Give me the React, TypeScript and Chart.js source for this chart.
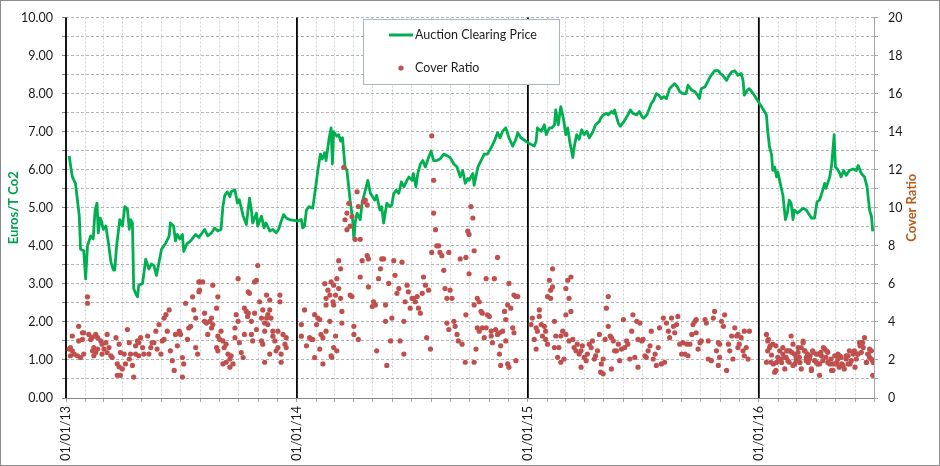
import React, { useEffect, useRef } from "react";
import { Chart, registerables } from "chart.js";

Chart.register(...registerables);

// ---------- data ----------
const yearTickLabels = ["01/01/13", "01/01/14", "01/01/15", "01/01/16"];
const yearStartDays = [0, 365, 730, 1095]; // days since 01/01/13
const xMaxDay = 1277; // 01/07/16
const priceAxisTitle = "Euros/T Co2";
const ratioAxisTitle = "Cover Ratio";
const priceLabel = "Auction Clearing Price";
const ratioLabel = "Cover Ratio";

// Auction clearing price (EUR/t), x = days since 01/01/13
const priceDay = [
  5, 10, 15, 21, 23, 28, 31, 34, 39, 43, 46, 49, 51, 54, 56, 59, 63, 67, 71, 75, 77, 80, 85, 89, 93, 97, 100, 102, 105, 107, 110, 113, 115, 121, 126, 131, 135, 139, 143, 147, 151, 158, 163, 165, 170, 173, 176, 180, 184, 186, 191, 197, 205, 210,
  219, 224, 230, 235, 240, 245, 248, 251, 255, 259, 261, 267, 271, 274, 280, 285, 290, 293, 295, 301, 303, 309, 313, 316, 322, 327, 332, 336, 340, 344, 348, 353, 367,
  372, 374, 377, 380, 384, 390, 395, 398, 402, 405, 409, 411, 416, 419, 421, 423, 428, 431, 434, 437, 441, 444, 449, 453, 455, 457, 460, 465, 468, 473, 477, 481, 483, 488, 491, 496, 499, 502, 507, 512, 515, 518, 522, 526, 530, 534, 539, 542, 547, 549, 553, 556, 560,
  564, 568, 573, 577, 581, 586, 591, 597, 602, 607, 613, 618, 623, 627, 631, 635, 637, 643, 645, 651, 656, 661, 666, 672, 677, 682, 686, 690, 695, 700, 706, 711, 714, 719, 730,
  740, 743, 745, 751, 756, 759, 764, 768, 772, 774, 778, 782, 786, 790, 793, 796, 801, 803, 807, 811, 815, 819, 823, 827, 832, 837, 843, 845, 849, 854, 857, 862, 865, 867, 873, 876, 882, 888, 892, 896, 902, 906, 910, 913,
  918, 922, 925, 929, 933, 937, 941, 945, 949, 954, 959, 962, 966, 970, 975, 980, 983, 989, 994, 998, 1001, 1004, 1010, 1014, 1018, 1022, 1025, 1031, 1034, 1038, 1044, 1048, 1052, 1057, 1062, 1067, 1070, 1072, 1077, 1080, 1086, 1091,
  1096, 1101, 1107, 1109, 1112, 1115, 1117, 1120, 1123, 1125, 1130, 1133, 1137, 1140, 1143, 1146, 1149, 1151, 1156, 1159, 1165, 1170, 1173, 1178, 1183, 1187, 1191, 1196, 1199, 1201, 1207, 1210, 1214, 1216, 1219, 1223, 1225, 1229, 1233, 1238, 1244, 1249, 1252, 1257, 1262, 1266, 1270, 1273, 1275,
];
const priceValue = [
  6.36, 5.81, 5.64, 4.78, 3.91, 3.87, 3.13, 4.0, 4.26, 4.18, 4.94, 5.12, 4.34, 4.73, 4.65, 4.43, 4.52, 4.08, 3.57, 3.36, 3.36, 4.0, 4.69, 4.52, 5.03, 4.97, 4.43, 4.69, 4.6, 2.88, 2.75, 2.66, 2.96, 3.01, 3.65, 3.39, 3.52, 3.48, 3.22, 3.57, 3.91, 4.08, 4.26, 4.6, 4.52, 4.13, 4.3, 4.18, 4.3, 3.85, 4.05, 4.13, 4.3, 4.22,
  4.43, 4.26, 4.34, 4.47, 4.39, 4.43, 5.03, 5.33, 5.42, 5.29, 5.42, 5.47, 5.12, 5.21, 4.78, 4.56, 5.25, 4.94, 4.6, 4.86, 4.52, 4.78, 4.47, 4.6, 4.39, 4.43, 4.34, 4.43, 4.64, 4.82, 4.73, 4.69, 4.65,
  4.69, 4.47, 4.52, 4.94, 5.03, 4.99, 5.59, 5.98, 6.41, 6.28, 6.45, 6.24, 6.84, 7.1, 6.15, 7.0, 6.88, 6.92, 6.75, 6.84, 6.07, 5.98, 5.2, 4.69, 4.17, 4.6, 4.86, 4.69, 5.12, 5.46, 5.72, 5.38, 5.33, 5.2, 5.33, 4.94, 5.03, 4.6, 5.12, 5.03, 5.08, 5.38, 5.46, 5.38, 5.68, 5.55, 5.72, 5.81, 5.72, 5.9, 5.55, 5.9, 6.15,
  6.24, 6.07, 6.32, 6.49, 6.24, 6.24, 6.28, 6.41, 6.37, 6.32, 6.15, 6.07, 5.81, 5.98, 5.64, 5.77, 5.72, 5.9, 5.59, 6.07, 6.24, 6.41, 6.41, 6.58, 6.75, 6.97, 6.84, 7.01, 7.1, 6.84, 6.62, 6.8, 6.97, 6.84, 6.71,
  6.62, 6.75, 7.1, 7.01, 7.18, 6.92, 7.1, 7.1, 7.18, 7.57, 7.18, 7.66, 7.35, 6.92, 7.1, 6.75, 6.32, 6.58, 6.92, 6.8, 7.05, 6.92, 7.01, 6.84, 6.97, 7.18, 7.27, 7.35, 7.44, 7.48, 7.44, 7.53, 7.48, 7.57, 7.22, 7.14, 7.27, 7.44, 7.57, 7.48, 7.44, 7.53, 7.4, 7.35,
  7.44, 7.61, 7.74, 7.83, 8.0, 7.96, 7.87, 7.92, 7.87, 8.13, 8.22, 8.26, 8.18, 8.05, 8.0, 8.0, 8.22, 8.09, 8.05, 7.96, 7.87, 8.13, 8.18, 8.31, 8.44, 8.53, 8.6, 8.6, 8.53, 8.48, 8.35, 8.48, 8.57, 8.6, 8.48, 8.53, 8.35, 7.96, 8.09, 8.13, 8.0, 7.87,
  7.74, 7.61, 7.44, 7.01, 6.58, 6.41, 5.98, 6.07, 5.81, 5.94, 5.55, 5.33, 4.69, 4.86, 5.2, 5.12, 4.69, 4.94, 4.86, 4.9, 4.99, 4.94, 4.86, 4.73, 4.73, 5.16, 5.2, 5.46, 5.64, 5.51, 5.81, 6.11, 6.92, 6.07, 6.02, 5.9, 5.81, 5.98, 5.85, 5.98, 6.02, 5.98, 6.11, 5.9, 5.81, 5.55, 4.94, 4.77, 4.38,
];

// Cover ratio (right axis), x = days since 01/01/13
const coverDay = [
  5, 7, 7, 10, 10, 13, 18, 20, 20, 23, 26, 26, 28, 28, 34, 34, 36, 39, 42, 42, 44, 44, 47, 47, 50, 50, 55, 57, 57, 60, 63, 65, 65, 68, 71, 73, 79, 81, 81, 84, 84, 86, 86, 89, 92, 94, 97, 100, 100, 102, 105, 107, 110, 110, 113, 115, 115, 118, 121, 123, 129, 131, 134, 136, 139, 142, 144, 147, 150, 152, 155, 155, 158, 160, 163, 165, 168, 171, 173, 176, 179, 181, 184, 184, 186, 189, 192, 194, 197, 200, 202, 205, 205, 208, 210, 210,
  211, 216, 211, 219, 222, 227, 230, 232, 230, 232, 240, 238, 224, 219, 240, 243, 245, 248, 238, 240, 250, 253, 248, 253, 259, 261, 264, 259, 256, 267, 267, 269, 272, 274, 272, 277, 280, 282, 285, 287, 288, 290, 282, 288, 293, 293, 295, 298, 301, 298, 301, 303, 306, 309, 311, 314, 317, 319, 322, 324, 322, 317, 319, 314, 309, 311, 314, 322, 327, 327, 330, 332, 335, 338, 338, 340, 343, 346, 348, 348, 335, 340,
  372, 372, 377, 380, 385, 388, 390, 393, 396, 398, 401, 403, 406, 401, 393, 406, 409, 411, 411, 414, 417, 419, 422, 419, 411, 417,
  439, 447, 444, 441, 444, 449, 452, 460, 462, 470, 473, 476, 457, 465, 431, 434, 428, 423, 431, 426, 434, 423, 436, 436, 426, 423, 428, 420,
  449, 452, 455, 455, 462, 465, 468, 476, 478, 478, 484, 486, 489, 491, 494, 497, 499, 502, 505, 505, 507, 510, 513, 515, 518, 520, 523, 526, 528, 531, 534, 534, 536, 539, 541, 544, 547, 549, 552, 555, 557, 560, 563, 565, 568, 570, 573, 576, 578, 578, 581, 581, 584, 586, 589, 591, 594, 597, 599, 602, 605, 607, 610, 613, 615, 618, 620, 623, 626, 631, 602, 605,
  640, 643, 635, 637, 632, 645, 637, 632, 645, 650, 653, 656, 658, 648, 645, 650, 653, 658, 661, 664, 664, 666, 669, 672, 672, 674, 677, 679, 682, 682, 685, 687, 685, 687, 690, 693, 695, 695, 698, 698, 700, 700, 703, 706, 708, 711, 714, 711, 708,
  735, 737, 740, 743, 743, 745, 748, 748, 751, 753, 756, 758, 758, 761, 761, 764, 766, 766, 769, 769, 772, 772, 774, 777, 779, 782, 785, 782, 787, 790, 790, 793, 795, 798, 798, 790, 795, 801, 803, 806, 808, 811, 814, 814, 816, 819, 822, 824, 827, 830, 832, 835, 837, 840, 843, 845,
  857, 854, 852, 857, 860, 862, 865, 849, 846, 849, 862, 867, 870, 873, 875, 878, 881, 883, 886, 888, 891, 894, 896, 899, 902, 904, 904, 907, 910, 912, 915, 917, 920, 923, 925, 928, 931, 933, 936, 938, 941, 944, 946, 949, 952, 954, 957, 960, 962, 965, 967, 970, 973, 975, 978, 981, 983, 986, 989, 991, 994, 996, 996, 999, 1002, 1004, 1010, 1012, 1015, 1015, 1020, 1023, 1025, 1028, 1031, 1033, 1036, 1039, 1041, 1044, 1047, 1049, 1052, 1054, 1057, 1060, 1062, 1031, 1033,
  1062, 1064, 1067, 1070, 1072, 1075, 1078, 1080, 1072,
  1107, 1109, 1107, 1109, 1112, 1114, 1117, 1120, 1122, 1125, 1128, 1130, 1133, 1136, 1138, 1141, 1143, 1146, 1149, 1151, 1154, 1157, 1159, 1162, 1165, 1167, 1170, 1172, 1175, 1178, 1180, 1183, 1186, 1188, 1191, 1193, 1196, 1199, 1201, 1204, 1207, 1209, 1212, 1215, 1217, 1220, 1222, 1225, 1228, 1230, 1233, 1236, 1238, 1241, 1244, 1246, 1249, 1251, 1254, 1257, 1259, 1262, 1265, 1267, 1270, 1273, 1275, 1275,
  1110, 1113, 1115, 1118, 1122, 1123, 1127, 1131, 1133, 1136, 1139, 1141, 1144, 1147, 1149, 1152, 1154, 1157, 1160, 1162, 1165, 1168, 1170, 1173, 1176, 1178, 1181, 1186, 1189, 1191, 1194, 1197, 1202, 1204, 1210, 1212, 1218, 1220, 1223, 1226, 1233, 1236, 1239, 1244, 1247, 1252, 1255, 1257, 1260, 1265, 1268, 1270, 1273, 1276,
];
const coverRatio = [
  2.57, 2.65, 2.22, 2.48, 3.26, 2.31, 2.22, 3.77, 3.0, 2.13, 3.43, 3.08, 3.43, 2.31, 5.32, 4.98, 3.34, 3.08, 3.2, 2.48, 2.65, 2.22, 3.34, 2.39, 3.17, 2.57, 3.0, 2.83, 2.31, 2.57, 2.91, 3.34, 2.39, 2.65, 2.22, 2.13, 3.17, 1.79, 1.19, 2.83, 1.64, 2.39, 1.19, 1.53, 2.31, 1.79, 3.6, 2.91, 2.05, 2.31, 1.71, 1.1, 2.31, 2.74, 3.0, 2.91, 2.22, 3.17, 2.65, 2.31, 3.26, 2.31, 2.65, 2.91, 2.91, 3.51, 2.57, 3.86, 2.31, 3.0, 3.08, 4.2, 4.38, 3.51, 4.63, 2.48, 1.96, 1.45, 3.34, 2.74, 3.51, 3.34, 1.1, 2.13, 1.79, 4.98, 3.08, 3.68, 3.77, 5.32, 4.63, 4.2, 2.65, 2.31, 6.1, 5.58,
  6.1, 6.1, 5.67, 4.46, 3.94, 4.03, 4.2, 3.86, 3.68, 5.93, 5.32, 4.72, 3.34, 4.03, 3.25, 3.08, 3.51, 3.0, 2.65, 2.48, 2.65, 2.83, 1.79, 1.88, 2.05, 2.22, 1.79, 1.62, 2.31, 3.68, 3.17, 4.38, 4.03, 2.91, 6.27, 2.39, 2.13, 4.72, 4.55, 4.29, 5.58, 5.5, 3.34, 4.46, 4.03, 3.34, 3.0, 4.46, 3.6, 6.1, 6.19, 6.96, 5.06, 4.2, 4.63, 3.94, 5.41, 4.38, 4.63, 4.2, 5.15, 4.2, 3.86, 3.51, 3.0, 2.83, 1.88, 2.31, 3.25, 3.51, 3.0, 2.48, 3.51, 5.41, 5.06, 2.31, 3.34, 2.83, 3.17, 2.65, 2.65, 1.88,
  3.25, 3.86, 4.63, 2.74, 3.17, 3.08, 3.08, 4.38, 3.86, 4.2, 4.12, 3.34, 3.17, 2.57, 2.13, 1.79, 6.01, 5.24, 4.89, 5.67, 5.41, 6.1, 5.06, 2.22, 3.51, 4.03,
  12.13, 10.23, 9.72, 9.37, 8.85, 9.03, 9.54, 10.84, 10.06, 10.32, 10.4, 10.15, 8.34, 8.34, 7.22, 6.79, 6.27, 5.93, 5.75, 5.41, 5.24, 4.89, 4.55, 3.94, 3.26, 2.65, 2.48, 2.14,
  5.41, 5.33, 3.77, 3.34, 3.08, 6.36, 7.22, 7.48, 7.31, 5.84, 4.81, 5.06, 4.89, 2.48, 6.27, 6.79, 7.31, 7.31, 4.89, 4.03, 1.71, 6.02, 3.0, 4.2, 7.22, 6.45, 5.5, 5.75, 3.0, 7.14, 4.03, 2.31, 5.06, 5.93, 5.58, 4.72, 5.24, 5.24, 5.06, 5.33, 4.72, 4.46, 5.5, 6.36, 5.93, 3.17, 5.67, 2.57, 7.65, 13.78, 11.44, 9.72, 8.85, 8.0, 8.0, 7.65, 7.48, 6.71, 5.75, 5.24, 7.65, 5.67, 5.24, 4.03, 3.77, 3.34, 3.0, 7.31, 2.83, 1.88, 3.94, 3.6,
  10.06, 9.46, 8.77, 8.6, 7.39, 7.74, 6.53, 4.37, 4.89, 5.24, 5.06, 4.55, 4.46, 2.57, 1.88, 3.69, 3.51, 3.69, 3.17, 6.27, 3.69, 4.37, 4.29, 3.51, 3.26, 2.91, 6.27, 3.6, 7.39, 3.34, 3.43, 2.74, 2.31, 1.71, 3.51, 4.55, 4.12, 3.0, 4.89, 1.79, 6.02, 1.62, 4.72, 3.69, 5.41, 5.33, 5.33, 1.96, 3.43,
  3.86, 4.2, 3.08, 2.57, 3.69, 3.51, 4.63, 4.29, 3.86, 3.26, 3.77, 3.51, 3.08, 2.83, 5.33, 6.19, 5.67, 5.24, 5.84, 6.79, 4.03, 2.65, 3.26, 2.14, 2.65, 3.26, 3.51, 1.88, 2.05, 4.37, 5.75, 6.19, 5.24, 6.36, 4.55, 3.34, 3.0, 3.08, 2.65, 2.48, 2.83, 2.31, 2.48, 1.62, 2.74, 2.14, 1.96, 2.31, 2.83, 2.65, 3.0, 2.05, 2.22, 2.48, 3.34, 1.36,
  5.33, 4.72, 3.08, 3.77, 3.26, 3.17, 3.0, 2.05, 1.79, 1.27, 1.53, 2.48, 2.48, 2.83, 1.96, 2.57, 4.12, 2.65, 3.0, 2.83, 2.05, 3.51, 4.37, 2.14, 4.03, 3.08, 1.62, 3.94, 3.0, 3.08, 2.22, 2.14, 2.48, 2.74, 3.51, 2.05, 2.31, 1.71, 2.65, 3.69, 1.79, 4.2, 1.88, 3.94, 3.51, 3.17, 4.2, 3.77, 3.43, 3.86, 4.29, 2.83, 2.31, 2.91, 2.31, 2.83, 2.22, 2.83, 3.34, 3.86, 4.03, 4.12, 3.43, 2.57, 2.91, 3.0, 4.12, 3.94, 3.0, 2.05, 1.96, 4.2, 4.55, 2.48, 2.91, 2.83, 4.03, 3.77, 4.37, 1.45, 2.83, 2.48, 3.26, 2.05, 3.69, 3.26, 2.65, 1.71, 2.14,
  3.34, 2.83, 3.17, 2.48, 3.51, 2.65, 2.05, 3.51, 2.22,
  3.34, 3.0, 1.88, 2.48, 2.65, 1.88, 2.83, 1.36, 2.74, 2.14, 2.48, 2.05, 2.65, 1.53, 2.14, 2.48, 1.88, 3.26, 1.71, 2.31, 1.96, 2.65, 2.14, 1.53, 2.91, 2.48, 1.96, 2.31, 2.05, 1.45, 2.48, 1.96, 2.31, 1.79, 1.19, 2.4, 1.96, 2.57, 2.14, 2.4, 1.79, 2.05, 1.45, 2.22, 1.79, 2.31, 1.62, 2.14, 1.71, 1.53, 2.22, 1.79, 2.48, 1.96, 2.31, 2.48, 2.05, 2.31, 2.91, 2.4, 2.91, 3.17, 1.88, 2.31, 2.57, 2.05, 1.19, 1.96,
  3.08, 2.74, 2.26, 1.79, 1.45, 1.87, 2.05, 1.87, 2.31, 2.14, 2.48, 1.96, 2.48, 2.4, 2.83, 1.79, 2.14, 2.4, 1.87, 2.65, 2.99, 2.48, 2.14, 1.87, 2.22, 1.53, 2.4, 1.87, 2.31, 1.79, 2.22, 2.65, 2.48, 1.87, 1.45, 1.79, 1.87, 2.05, 2.22, 1.79, 2.05, 2.22, 1.79, 2.4, 1.62, 2.31, 2.74, 2.91, 2.65, 1.87, 2.31, 2.14, 2.48, 1.87,
];

// month start days for the vertical grid
const monthStartDays: number[] = (() => {
  const out: number[] = [];
  const base = Date.UTC(2013, 0, 1);
  for (let y = 2013; y <= 2016; y++) {
    for (let m = 0; m < 12; m++) {
      const d = Math.round((Date.UTC(y, m, 1) - base) / 86400000);
      if (d <= xMaxDay) out.push(d);
    }
  }
  return out;
})();

const FONT = "Lato, 'Open Sans', sans-serif";
const GREEN = "#00B050";
const RED = "#C0504D";
const RATIO_TITLE_COLOR = "#B85A1B";

const framePlugin = {
  id: "frameAndLines",
  beforeDatasetsDraw(chart: any) {
    const { ctx, chartArea, scales } = chart;
    ctx.save();
    // bottom axis line
    ctx.strokeStyle = "#868686";
    ctx.lineWidth = 1;
    ctx.beginPath();
    ctx.moveTo(chartArea.left, Math.round(chartArea.bottom) + 0.5);
    ctx.lineTo(chartArea.right, Math.round(chartArea.bottom) + 0.5);
    ctx.stroke();
    // right axis line
    ctx.strokeStyle = "#A6A6A6";
    ctx.beginPath();
    ctx.moveTo(Math.round(chartArea.right) + 0.5, chartArea.top);
    ctx.lineTo(Math.round(chartArea.right) + 0.5, chartArea.bottom);
    ctx.stroke();
    // year lines (incl. left axis)
    ctx.strokeStyle = "#000000";
    ctx.lineWidth = 1.8;
    for (const d of yearStartDays) {
      const x = scales.x.getPixelForValue(d);
      ctx.beginPath();
      ctx.moveTo(x, chartArea.top);
      ctx.lineTo(x, chartArea.bottom);
      ctx.stroke();
    }
    ctx.restore();
  },
  afterDraw(chart: any) {
    const { ctx, chartArea } = chart;
    ctx.save();
    // right axis title, reading bottom-to-top like the left one
    ctx.translate(912, (chartArea.top + chartArea.bottom) / 2);
    ctx.rotate(-Math.PI / 2);
    ctx.font = `bold 13px ${FONT}`;
    ctx.fillStyle = RATIO_TITLE_COLOR;
    ctx.textAlign = "center";
    ctx.textBaseline = "middle";
    ctx.fillText(ratioAxisTitle, 0, 0);
    ctx.restore();

    ctx.save();
    // legend box
    const bx = 363.5, by = 19.5, bw = 196, bh = 65;
    ctx.fillStyle = "#FFFFFF";
    ctx.fillRect(bx, by, bw, bh);
    ctx.strokeStyle = "#A9B6C9";
    ctx.lineWidth = 1;
    ctx.strokeRect(bx, by, bw, bh);
    const ds = chart.data.datasets;
    ctx.font = `12.5px ${FONT}`;
    ctx.textBaseline = "middle";
    ctx.textAlign = "left";
    // line entry
    ctx.strokeStyle = GREEN;
    ctx.lineWidth = 3;
    ctx.beginPath();
    ctx.moveTo(389, 35);
    ctx.lineTo(413, 35);
    ctx.stroke();
    ctx.fillStyle = "#1E1E1E";
    ctx.fillText(ds[1].label, 415, 35);
    // dot entry
    ctx.fillStyle = RED;
    ctx.beginPath();
    ctx.arc(401, 68, 2.6, 0, Math.PI * 2);
    ctx.fill();
    ctx.fillStyle = "#1E1E1E";
    ctx.fillText(ds[0].label, 415, 68);
    // outer frame
    ctx.strokeStyle = "#8C8C8C";
    ctx.lineWidth = 1;
    ctx.strokeRect(0.5, 0.5, chart.width - 1, chart.height - 1);
    ctx.restore();
  },
};

export default function App() {
  const ref = useRef<HTMLCanvasElement | null>(null);
  useEffect(() => {
    document.body.style.margin = "0";
    const canvas = ref.current;
    if (!canvas) return;
    const chart = new Chart(canvas, {
      type: "scatter",
      data: {
        datasets: [
          {
            type: "scatter",
            label: ratioLabel,
            data: coverDay.map((d, i) => ({ x: d, y: coverRatio[i] })),
            yAxisID: "yRatio",
            pointRadius: 2.6,
            pointHoverRadius: 2.6,
            backgroundColor: RED,
            borderWidth: 0,
            order: 0,
          } as any,
          {
            type: "line",
            label: priceLabel,
            data: priceDay.map((d, i) => ({ x: d, y: priceValue[i] })),
            yAxisID: "yPrice",
            borderColor: GREEN,
            borderWidth: 2.8,
            pointRadius: 0,
            tension: 0,
            fill: false,
            borderJoinStyle: "round",
            order: 1,
          } as any,
        ],
      },
      options: {
        animation: false,
        responsive: false,
        devicePixelRatio: 1,
        layout: { padding: { top: 11, left: 0, right: 0, bottom: 0 } },
        plugins: { legend: { display: false }, tooltip: { enabled: false } },
        scales: {
          x: {
            type: "linear",
            position: "bottom",
            min: 0,
            max: xMaxDay,
            afterBuildTicks: (s: any) => {
              s.ticks = monthStartDays.map((v) => ({ value: v }));
            },
            afterFit: (s: any) => {
              s.height = 68;
            },
            ticks: {
              autoSkip: false,
              minRotation: 90,
              maxRotation: 90,
              padding: 4,
              color: "#1A1A1A",
              font: { family: FONT, size: 12.5 },
              callback: (v: any) => {
                const i = yearStartDays.indexOf(Number(v));
                return i >= 0 ? yearTickLabels[i] : "";
              },
            },
            grid: { color: "#D3D3D3", lineWidth: 1, drawTicks: true, tickLength: 4, tickColor: "#A6A6A6" },
            border: { display: false, dash: [2, 2] },
          },
          yPrice: {
            type: "linear",
            position: "left",
            min: 0,
            max: 10,
            afterFit: (s: any) => {
              s.width = 66;
            },
            ticks: {
              stepSize: 0.5,
              maxTicksLimit: 100,
              padding: 9,
              color: "#1A1A1A",
              font: { family: FONT, size: 12.5 },
              callback: (v: any) => (Math.abs(Number(v) % 1) < 1e-9 ? Number(v).toFixed(2) : ""),
            },
            grid: { color: "#B4B4B4", lineWidth: 1, tickLength: 4, tickColor: "#868686" },
            border: { display: false, dash: [3, 2] },
            title: {
              display: true,
              text: priceAxisTitle,
              color: "#00A050",
              font: { family: FONT, size: 13, weight: "bold" },
              padding: { top: 6, bottom: 0 },
            },
          },
          yRatio: {
            type: "linear",
            position: "right",
            min: 0,
            max: 20,
            afterFit: (s: any) => {
              s.width = 66;
            },
            ticks: {
              stepSize: 1,
              maxTicksLimit: 100,
              padding: 10,
              color: "#1A1A1A",
              font: { family: FONT, size: 12.5 },
              callback: (v: any) => (Number(v) % 2 === 0 ? String(v) : ""),
            },
            grid: { drawOnChartArea: false, tickLength: 4, tickColor: "#A6A6A6" },
            border: { display: false },
            title: { display: false },
          },
        },
      } as any,
      plugins: [framePlugin],
    });
    return () => chart.destroy();
  }, []);
  return (
    <div style={{ width: 940, height: 466, background: "#FFFFFF" }}>
      <canvas ref={ref} width={940} height={466} style={{ display: "block" }} />
    </div>
  );
}
